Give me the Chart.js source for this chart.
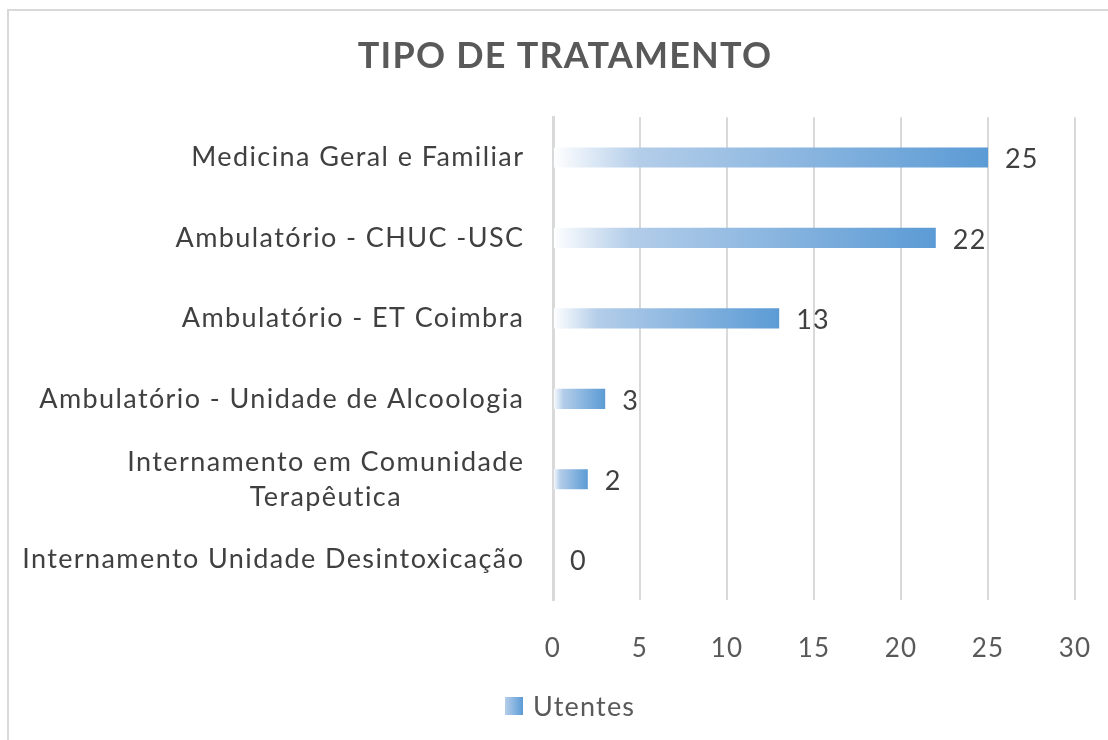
<!DOCTYPE html>
<html>
<head>
<meta charset="utf-8">
<script src="https://cdn.jsdelivr.net/npm/chart.js@4.4.1/dist/chart.umd.min.js"></script>
<style>
  html, body { margin: 0; padding: 0; background: #ffffff; overflow: hidden; }
  #wrap { position: relative; width: 1108px; height: 740px; overflow: hidden; }
  #frame { position: absolute; left: 7px; top: 9px; width: 1300px; height: 900px; border: 2px solid #d9d9d9; box-sizing: border-box; }
  #c { position: absolute; left: 0; top: 0; }
</style>
</head>
<body>
<div id="wrap">
  <div id="frame"></div>
  <canvas id="c" width="1108" height="740"></canvas>
</div>
<script>
const titleText = 'TIPO DE TRATAMENTO';
const categories = [
  ['Medicina Geral e Familiar'],
  ['Ambulatório - CHUC -USC'],
  ['Ambulatório - ET Coimbra'],
  ['Ambulatório - Unidade de Alcoologia'],
  ['Internamento em Comunidade', 'Terapêutica'],
  ['Internamento Unidade Desintoxicação']
];
const seriesName = 'Utentes';
const utentes = [25, 22, 13, 3, 2, 0];
const xTicks = [0, 5, 10, 15, 20, 25, 30];

const FONT = 'Lato, "Noto Sans", sans-serif';
const BLUE = '#5b9bd5';
const SPACING = 1.2;
const CAT_SPACING = 1.4;

function barGradient(ctx2d, x0, x1) {
  const g = ctx2d.createLinearGradient(x0, 0, x1, 0);
  g.addColorStop(0, '#ffffff');
  g.addColorStop(0.2, '#b3cde9');
  g.addColorStop(1, BLUE);
  return g;
}

const extrasPlugin = {
  id: 'extras',
  beforeDraw(chart) {
    if ('letterSpacing' in chart.ctx) chart.ctx.letterSpacing = SPACING + 'px';
  },
  afterDatasetsDraw(chart) {
    const { ctx, scales, chartArea } = chart;
    const meta = chart.getDatasetMeta(0);
    const hasLS = 'letterSpacing' in ctx;
    ctx.save();
    // category labels
    if (hasLS) ctx.letterSpacing = CAT_SPACING + 'px';
    ctx.fillStyle = '#404040';
    ctx.font = '27px ' + FONT;
    ctx.textBaseline = 'middle';
    const rightX = chartArea.left - 30 + CAT_SPACING;
    const lineH = 35;
    categories.forEach((lines, i) => {
      const y = scales.y.getPixelForTick(i);
      const widths = lines.map(l => ctx.measureText(l).width);
      const block = Math.max(...widths);
      const cx = rightX - block / 2;
      const y0 = y - (lines.length - 1) * lineH / 2;
      ctx.textAlign = 'center';
      lines.forEach((l, k) => ctx.fillText(l, cx, y0 + k * lineH));
    });
    // data labels
    if (hasLS) ctx.letterSpacing = SPACING + 'px';
    ctx.fillStyle = '#404040';
    ctx.textAlign = 'left';
    meta.data.forEach((bar, i) => {
      ctx.fillText(String(utentes[i]), bar.x + 17, bar.y + 2);
    });
    // legend
    const lx = 505, ly = 697, box = 18;
    ctx.fillStyle = barGradient(ctx, lx - 4, lx + box);
    ctx.fillRect(lx, ly, box, box);
    ctx.fillStyle = '#595959';
    ctx.fillText(seriesName, lx + box + 10, ly + box / 2 + 1);
    ctx.restore();
  },
  afterDraw(chart) {
    if ('letterSpacing' in chart.ctx) chart.ctx.letterSpacing = '0px';
  }
};

new Chart(document.getElementById('c'), {
  type: 'bar',
  data: {
    labels: categories,
    datasets: [{
      label: seriesName,
      data: utentes,
      backgroundColor: (c) => {
        const chart = c.chart;
        if (!chart.chartArea || c.type !== 'data') return BLUE;
        const x0 = chart.scales.x.getPixelForValue(0);
        const x1 = chart.scales.x.getPixelForValue(c.raw);
        if (x1 - x0 < 1) return BLUE;
        return barGradient(chart.ctx, x0, x1);
      },
      borderWidth: 0,
      categoryPercentage: 0.5,
      barPercentage: 0.5
    }]
  },
  options: {
    indexAxis: 'y',
    responsive: false,
    animation: false,
    layout: { padding: { left: 55, right: 33, top: 0, bottom: 0 } },
    plugins: {
      legend: { display: false },
      tooltip: { enabled: false },
      title: {
        display: true,
        text: titleText,
        color: '#595959',
        font: { family: FONT, size: 36, weight: 'bold' },
        padding: { top: 35, bottom: 39 }
      }
    },
    scales: {
      x: {
        min: 0, max: 30,
        afterBuildTicks: (s) => { s.ticks = xTicks.map(v => ({ value: v })); },
        grid: { color: '#d9d9d9', lineWidth: 2, drawTicks: false },
        border: { display: false },
        ticks: { color: '#595959', font: { family: FONT, size: 26 }, padding: 33 },
        afterFit: (s) => { s.height = 140; s.paddingLeft = 0; s.paddingRight = 0; }
      },
      y: {
        grid: { display: false, drawTicks: false },
        border: { display: true, color: '#d9d9d9', width: 3 },
        ticks: { display: false },
        afterFit: (s) => { s.width = 498; s.paddingTop = 0; s.paddingBottom = 0; }
      }
    }
  },
  plugins: [extrasPlugin]
});
</script>
</body>
</html>
